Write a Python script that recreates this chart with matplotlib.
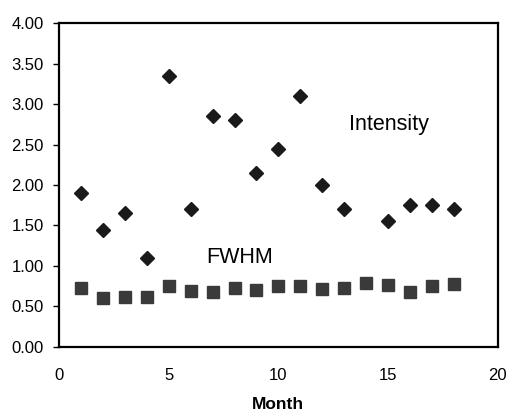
import matplotlib.pyplot as plt

plt.rcParams['font.family'] = ['Liberation Sans', 'DejaVu Sans']

# monthly values
months_int = [1, 2, 3, 4, 5, 6, 7, 8, 9, 10, 11, 12, 13, 15, 16, 17, 18]
intensity = [1.90, 1.45, 1.65, 1.10, 3.35, 1.70, 2.85, 2.80, 2.15, 2.45, 3.10, 2.00, 1.70, 1.55, 1.75, 1.75, 1.70]
months_fwhm = list(range(1, 19))
fwhm = [0.73, 0.61, 0.62, 0.62, 0.75, 0.69, 0.68, 0.73, 0.70, 0.75, 0.75, 0.72, 0.73, 0.79, 0.76, 0.68, 0.75, 0.78]
yticks = [0.0, 0.5, 1.0, 1.5, 2.0, 2.5, 3.0, 3.5, 4.0]
xticks = [0, 5, 10, 15, 20]

fig = plt.figure(figsize=(5.09, 4.12), dpi=100)
ax = fig.add_axes([0.116, 0.158, 0.862, 0.786])

ax.plot(months_int, intensity, 'D', color='#1a1a1a', markersize=7.5, linestyle='none')
ax.plot(months_fwhm, fwhm, 's', color='#3a3a3a', markersize=8.5, linestyle='none')

ax.set_xlim(0, 20)
ax.set_ylim(0, 4)
ax.set_xticks(xticks)
ax.set_yticks(yticks)
ax.set_yticklabels(['%.2f' % v for v in yticks])
ax.tick_params(axis='both', direction='out', length=4, width=1, labelsize=12)
ax.tick_params(axis='y', pad=7)
ax.tick_params(axis='x', length=0, pad=15)
for s in ax.spines.values():
    s.set_linewidth(1.6)

ax.text(13.2, 2.75, 'Intensity', fontsize=15.5, va='center', ha='left')
ax.text(6.7, 1.1, 'FWHM', fontsize=15.5, va='center', ha='left')
ax.set_xlabel('Month', fontsize=12.5, fontweight='bold', labelpad=10)

fig.savefig('out.png', dpi=100)
